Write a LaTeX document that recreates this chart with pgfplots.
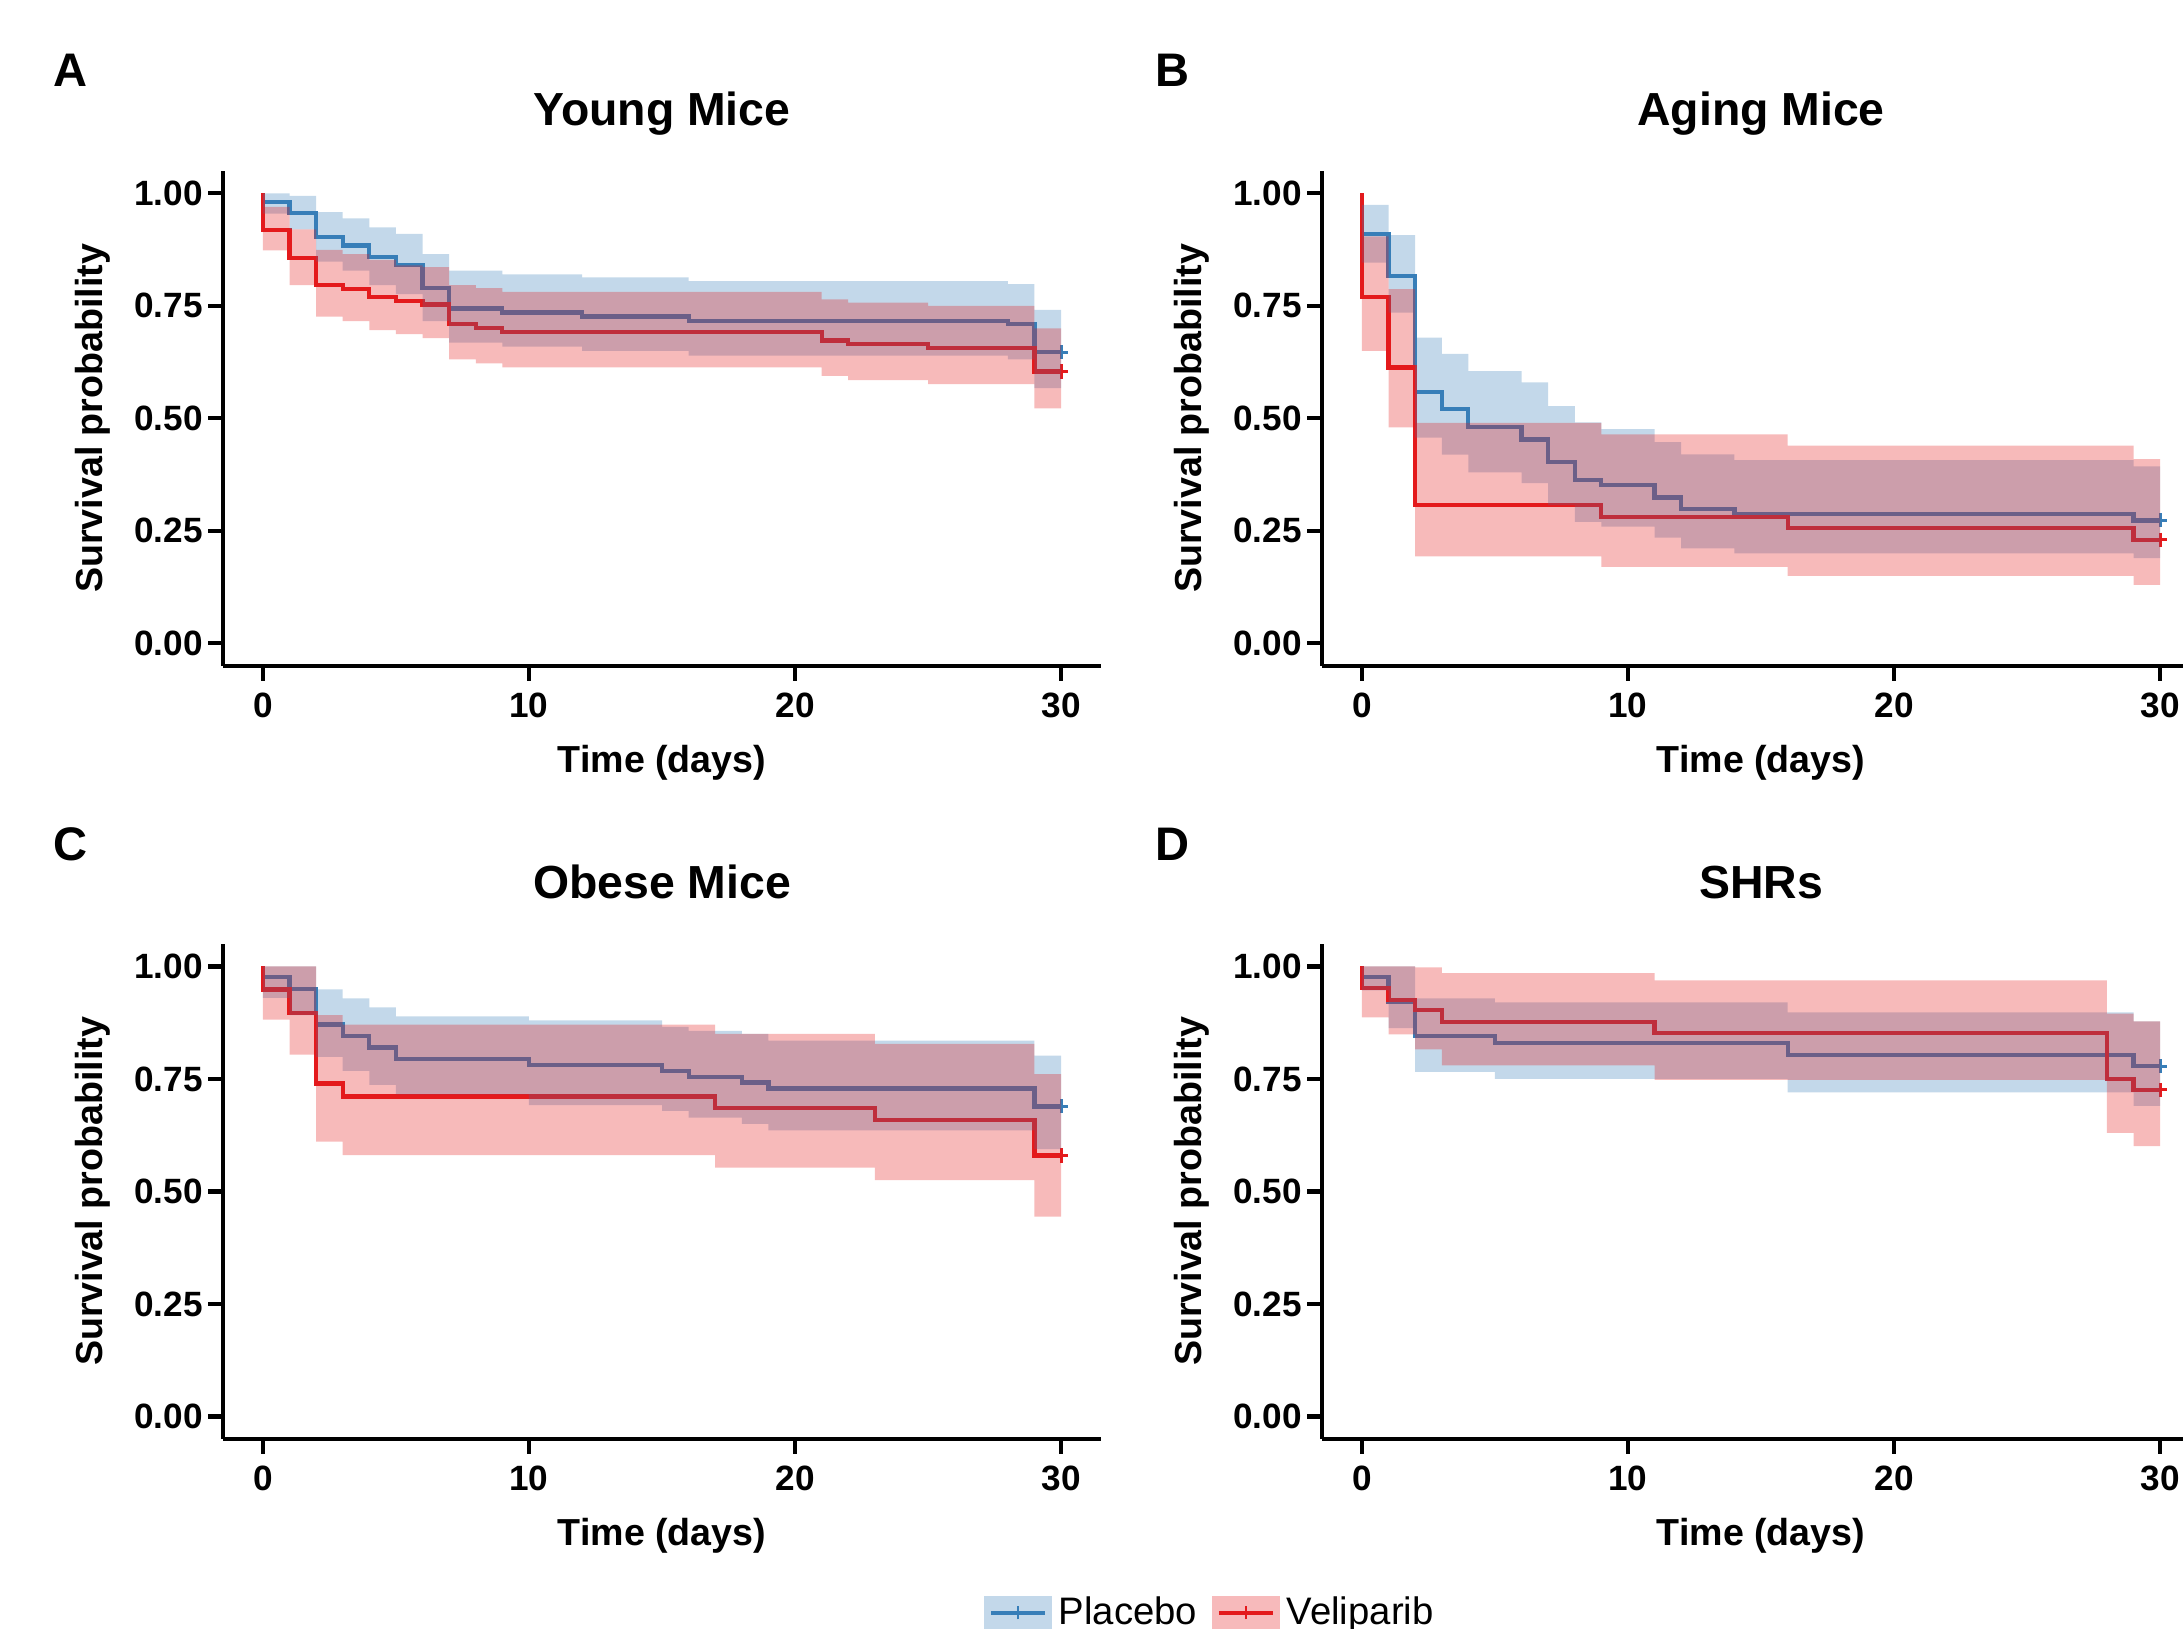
\documentclass[border=0pt]{standalone}
\usepackage{fontspec}
\setmainfont{Liberation Sans}
\usepackage{pgfplots}
\pgfplotsset{compat=1.18}
\usepackage{pgfplotstable}
\usepgfplotslibrary{fillbetween}

\definecolor{pblue}{HTML}{377EB8}
\definecolor{vred}{HTML}{E41A1C}

% columns: time, survival, upper CI, lower CI
\pgfplotstableread{
t s u l
0 1 1 1
0 0.981 1.000 0.955
1 0.956 0.994 0.920
2 0.902 0.958 0.848
3 0.884 0.944 0.828
4 0.859 0.924 0.796
5 0.841 0.910 0.776
6 0.789 0.865 0.716
7 0.744 0.828 0.668
9 0.735 0.820 0.659
12 0.726 0.813 0.650
16 0.717 0.805 0.639
28 0.710 0.798 0.631
29 0.647 0.741 0.567
30 0.647 0.741 0.567
}\Ap
\pgfplotstableread{
t s u l
0 1 1 1
0 0.919 0.970 0.873
1 0.857 0.920 0.796
2 0.796 0.874 0.726
3 0.787 0.865 0.716
4 0.770 0.852 0.696
5 0.761 0.840 0.687
6 0.753 0.836 0.678
7 0.710 0.796 0.631
8 0.700 0.789 0.622
9 0.691 0.781 0.613
21 0.673 0.764 0.594
22 0.665 0.757 0.585
25 0.656 0.750 0.576
29 0.604 0.700 0.522
30 0.604 0.700 0.522
}\Av
\pgfplotstableread{
t s u l
0 1 1 1
0 0.910 0.974 0.846
1 0.817 0.907 0.735
2 0.558 0.679 0.457
3 0.521 0.643 0.419
4 0.480 0.605 0.380
6 0.453 0.580 0.356
7 0.402 0.527 0.307
8 0.363 0.491 0.270
9 0.352 0.476 0.259
11 0.324 0.447 0.235
12 0.299 0.420 0.211
14 0.287 0.407 0.200
29 0.273 0.393 0.189
30 0.273 0.393 0.189
}\Bp
\pgfplotstableread{
t s u l
0 1 1 1
0 0.770 0.904 0.650
1 0.613 0.787 0.480
2 0.307 0.490 0.193
9 0.281 0.464 0.170
16 0.256 0.439 0.150
29 0.230 0.409 0.130
30 0.230 0.409 0.130
}\Bv
\pgfplotstableread{
t s u l
0 1 1 1
0 0.976 1.000 0.930
1 0.950 1.000 0.892
2 0.871 0.949 0.799
3 0.845 0.929 0.768
4 0.820 0.909 0.737
5 0.794 0.889 0.716
10 0.781 0.880 0.692
15 0.768 0.866 0.679
16 0.755 0.857 0.664
18 0.742 0.850 0.650
19 0.729 0.835 0.636
29 0.689 0.802 0.594
30 0.689 0.802 0.594
}\Cp
\pgfplotstableread{
t s u l
0 1 1 1
0 0.949 1.000 0.882
1 0.896 1.000 0.804
2 0.740 0.892 0.611
3 0.711 0.871 0.581
17 0.685 0.850 0.553
23 0.659 0.828 0.525
29 0.580 0.761 0.444
30 0.580 0.761 0.444
}\Cv
\pgfplotstableread{
t s u l
0 1 1 1
0 0.976 1.000 0.947
1 0.922 1.000 0.863
2 0.845 0.929 0.766
5 0.830 0.920 0.750
16 0.804 0.898 0.720
29 0.778 0.878 0.690
30 0.778 0.878 0.690
}\Dp
\pgfplotstableread{
t s u l
0 1 1 1
0 0.952 1.000 0.887
1 0.926 1.000 0.849
2 0.903 0.998 0.816
3 0.876 0.985 0.780
11 0.852 0.969 0.748
28 0.750 0.895 0.630
29 0.726 0.878 0.601
30 0.726 0.878 0.601
}\Dv

\pgfplotsset{
  km/.style={
    scale only axis, width=8.78cm, height=4.95cm,
    xmin=-1.5, xmax=31.5, ymin=-0.05, ymax=1.05,
    axis x line*=bottom, axis y line*=left,
    axis line style={line width=1.2pt, black},
    xtick={0,10,20,30}, xticklabels={0,10,20,30},
    ytick={0,0.25,0.5,0.75,1}, yticklabels={0.00,0.25,0.50,0.75,1.00},
    tick align=outside, major tick length=0.15cm,
    tick style={line width=1.2pt, black},
    /pgf/number format/assume math mode=true,
    ticklabel style={font=\fontsize{10}{12}\selectfont\bfseries},
    yticklabel style={xshift=0.07cm},
    xlabel={Time (days)}, ylabel={Survival probability},
    xlabel style={at={(axis description cs:0.5,-0.216)}, anchor=base,
      font=\fontsize{10.7}{12}\selectfont\bfseries},
    ylabel style={at={(axis description cs:-0.137,0.5)}, anchor=base,
      font=\fontsize{10.7}{12}\selectfont\bfseries},
    title style={at={(axis description cs:0.5,1.049)}, anchor=base,
      font=\fontsize{13.2}{15}\selectfont\bfseries},
  },
  kmline/.style={const plot, line width=1.2pt, forget plot},
  kmband/.style={const plot, draw=none, forget plot},
  kmfill/.style={fill=#1, fill opacity=0.3, forget plot},
  kmcens/.style={only marks, mark=+, mark size=2pt, line width=0.8pt, forget plot,
    on layer=axis foreground},
}

% lines first, then the two confidence ribbons over them, then the censor marks
\newcommand{\kmpanel}[5]{%
  \addplot[kmline, pblue] table[x=t, y=s] {#1};
  \addplot[kmline, vred] table[x=t, y=s] {#2};
  \addplot[kmband, name path=#5pu] table[x=t, y=u] {#1};
  \addplot[kmband, name path=#5pl] table[x=t, y=l] {#1};
  \addplot[kmfill=pblue] fill between[of=#5pu and #5pl, on layer=axis foreground];
  \addplot[kmband, name path=#5vu] table[x=t, y=u] {#2};
  \addplot[kmband, name path=#5vl] table[x=t, y=l] {#2};
  \addplot[kmfill=vred] fill between[of=#5vu and #5vl, on layer=axis foreground];
  \addplot[kmcens, pblue] coordinates {(30,#3)};
  \addplot[kmcens, vred] coordinates {(30,#4)};
}

\begin{document}
\begin{tikzpicture}
\begin{axis}[km, at={(2.23cm,9.632cm)}, anchor=south west, title={Young Mice}]
  \kmpanel{\Ap}{\Av}{0.647}{0.604}{a}
\end{axis}
\begin{axis}[km, at={(13.22cm,9.632cm)}, anchor=south west, title={Aging Mice}]
  \kmpanel{\Bp}{\Bv}{0.273}{0.230}{b}
\end{axis}
\begin{axis}[km, at={(2.23cm,1.90cm)}, anchor=south west, title={Obese Mice}]
  \kmpanel{\Cp}{\Cv}{0.689}{0.580}{c}
\end{axis}
\begin{axis}[km, at={(13.22cm,1.90cm)}, anchor=south west, title={SHRs}]
  \kmpanel{\Dp}{\Dv}{0.778}{0.726}{d}
\end{axis}

\begin{axis}[hide axis, scale only axis, width=1cm, height=0.5cm,
  xmin=0, xmax=1, ymin=0, ymax=1,
  at={(12.125cm,0.16cm)}, anchor=center,
  legend columns=2,
  legend style={at={(0.5,0.5)}, anchor=center, draw=none, fill=none,
    font=\fontsize{10.9}{12}\selectfont, inner sep=0pt,
    nodes={inner sep=0.07cm},
    /tikz/every even column/.append style={column sep=0.08cm}}]
  \addlegendimage{legend image code/.code={
    \fill[pblue!30] (0cm,-0.16cm) rectangle (0.66cm,0.16cm);
    \draw[pblue, line width=1.2pt] (0.06cm,0cm) -- (0.6cm,0cm);
    \draw[pblue, line width=0.7pt] (0.33cm,-0.065cm) -- (0.33cm,0.065cm);}}
  \addlegendentry{Placebo}
  \addlegendimage{legend image code/.code={
    \fill[vred!30] (0cm,-0.16cm) rectangle (0.66cm,0.16cm);
    \draw[vred, line width=1.2pt] (0.06cm,0cm) -- (0.6cm,0cm);
    \draw[vred, line width=0.7pt] (0.33cm,-0.065cm) -- (0.33cm,0.065cm);}}
  \addlegendentry{Veliparib}
\end{axis}

\node[anchor=base west, font=\fontsize{13.4}{15}\selectfont\bfseries] at (0.41cm,15.42cm) {A};
\node[anchor=base west, font=\fontsize{13.4}{15}\selectfont\bfseries] at (11.43cm,15.42cm) {B};
\node[anchor=base west, font=\fontsize{13.4}{15}\selectfont\bfseries] at (0.41cm,7.68cm) {C};
\node[anchor=base west, font=\fontsize{13.4}{15}\selectfont\bfseries] at (11.43cm,7.68cm) {D};

\pgfresetboundingbox
\useasboundingbox (0,0) rectangle (21.83cm,16.29cm);
\end{tikzpicture}
\end{document}
